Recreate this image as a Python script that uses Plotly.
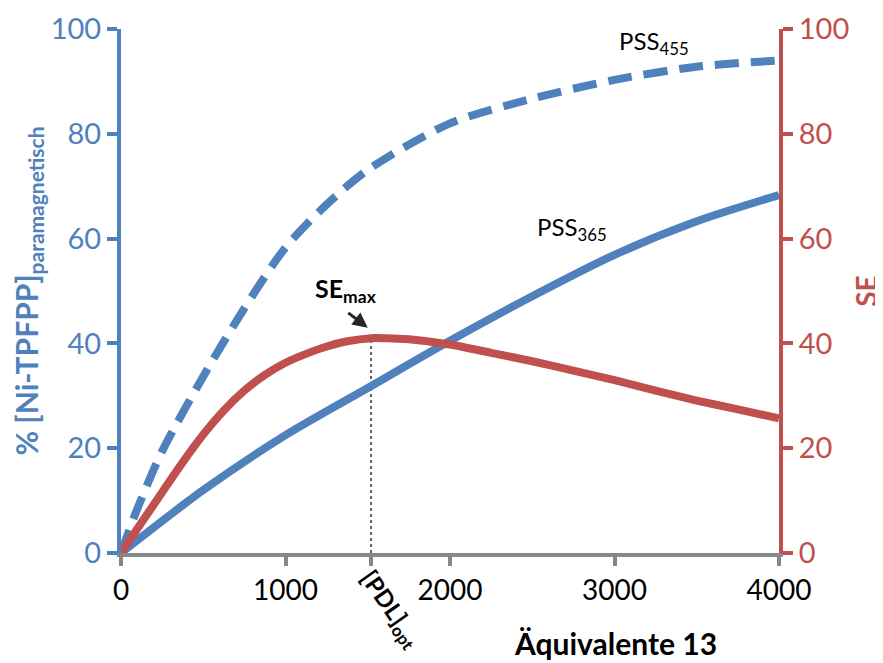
import plotly.graph_objects as go

# Data
x_pss455 = [0, 100, 250, 500, 750, 1000, 1250, 1500, 2000, 2500, 3000, 3500, 4000]
y_pss455 = [0, 8.5, 19.4, 33.7, 46.7, 58.3, 66.5, 73.1, 82.0, 86.7, 90.3, 92.8, 94.0]

x_pss365 = [0, 500, 1000, 1500, 2000, 2500, 3000, 3500, 4000]
y_pss365 = [0, 12.0, 22.5, 31.5, 40.5, 49.0, 56.9, 63.3, 68.3]

x_se = [0, 125, 250, 375, 500, 625, 750, 875, 1000, 1125, 1250, 1375, 1520, 1650, 1750,
        2000, 2250, 2500, 2750, 3000, 3250, 3500, 3750, 4000]
y_se = [0, 5.8, 11.6, 17.3, 22.6, 27.2, 31.0, 34.0, 36.3, 38.0, 39.4, 40.4, 41.0, 40.95, 40.8,
        39.8, 38.2, 36.6, 34.8, 33.0, 31.0, 29.1, 27.4, 25.7]

x_ticks = [0, 1000, 2000, 3000, 4000]
y_ticks = [0, 20, 40, 60, 80, 100]

BLUE = "#4F81BD"
RED = "#C0504D"
GRAY = "#878787"
FONT = "Lato"

i_max = y_se.index(max(y_se))
pdl_opt = x_se[i_max]
se_max = y_se[i_max]

fig = go.Figure()
fig.add_trace(go.Scatter(x=x_pss455, y=y_pss455, mode="lines",
                         line=dict(color=BLUE, width=8, dash="24px,12px", shape="spline", smoothing=0.8),
                         showlegend=False))
fig.add_trace(go.Scatter(x=x_pss365, y=y_pss365, mode="lines",
                         line=dict(color=BLUE, width=8, shape="spline", smoothing=0.8),
                         showlegend=False))
fig.add_trace(go.Scatter(x=x_se, y=y_se, mode="lines", yaxis="y2",
                         line=dict(color=RED, width=8, shape="spline", smoothing=0.6),
                         showlegend=False))

# dotted guide line at SE max
fig.add_shape(type="line", x0=pdl_opt, x1=pdl_opt, y0=0, y1=se_max, xref="x", yref="y2",
              line=dict(color="#333333", width=1.5, dash="dot"), layer="below")

# page body has an 8px default margin, so the figure is 875x655
fig.update_layout(
    width=875, height=655,
    margin=dict(l=113, r=104, t=21, b=110),
    plot_bgcolor="white", paper_bgcolor="white",
    font=dict(family=FONT, color="black"),
    xaxis=dict(range=[0, 4000], tickvals=x_ticks + [pdl_opt],
               ticktext=[str(v) for v in x_ticks] + [""], automargin=False,
               showgrid=False, zeroline=False, showline=True, linecolor=GRAY, linewidth=4,
               ticks="outside", ticklen=9, tickwidth=4, tickcolor=GRAY,
               tickfont=dict(size=28, color="black", family=FONT)),
    yaxis=dict(range=[0, 100], tickvals=y_ticks, showgrid=False, zeroline=False, automargin=False,
               showline=True, linecolor=BLUE, linewidth=4,
               ticks="outside", ticklen=10, tickwidth=4, tickcolor=BLUE,
               tickfont=dict(size=29, color=BLUE, family=FONT),
               title=dict(text="<b>% [Ni-TPFPP]<sub>paramagnetisch</sub></b>",
                          font=dict(size=30, color=BLUE, family=FONT), standoff=6)),
    yaxis2=dict(range=[0, 100], tickvals=y_ticks, overlaying="y", side="right", automargin=False,
                showgrid=False, zeroline=False, showline=True, linecolor=RED, linewidth=4,
                ticks="outside", ticklen=10, tickwidth=4, tickcolor=RED,
                tickfont=dict(size=29, color=RED, family=FONT),
                title=dict(text="<b>SE</b>", font=dict(size=28, color=RED, family=FONT), standoff=20)),
)

fig.add_annotation(x=0.752, y=-0.172, xref="paper", yref="paper", text="<b>Äquivalente 13</b>",
                   xanchor="center", yanchor="middle",
                   showarrow=False, font=dict(size=30, color="black", family=FONT))
fig.add_annotation(x=3240, y=97.5, xref="x", yref="y", text="PSS<sub>455</sub>",
                   showarrow=False, font=dict(size=24, color="black", family=FONT))
fig.add_annotation(x=2742, y=62, xref="x", yref="y", text="PSS<sub>365</sub>",
                   showarrow=False, font=dict(size=24, color="black", family=FONT))
fig.add_annotation(x=1370, y=50.2, xref="x", yref="y", text="<b>SE<sub>max</sub></b>",
                   showarrow=False, font=dict(size=25, color="black", family=FONT))
fig.add_annotation(x=pdl_opt - 20, y=se_max + 2, xref="x", yref="y2", text="",
                   showarrow=True, ax=-21, ay=-16, arrowhead=2, arrowsize=1, arrowwidth=3,
                   arrowcolor="#262626", standoff=0)
fig.add_annotation(x=1640 / 4000, y=-0.108, xref="paper", yref="paper", text="<b>[PDL]<sub>opt</sub></b>",
                   xanchor="center", yanchor="middle",
                   showarrow=False, textangle=55, font=dict(size=24, color="black", family=FONT))

fig.write_html("out.html")
